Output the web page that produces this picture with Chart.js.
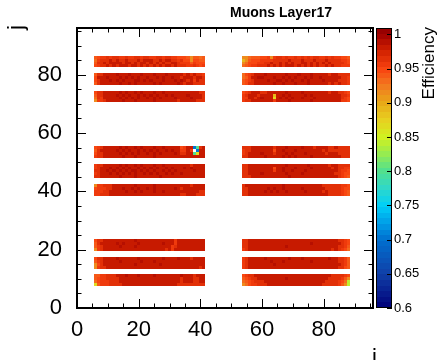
<!DOCTYPE html>
<html>
<head>
<meta charset="utf-8">
<script src="https://cdn.jsdelivr.net/npm/chart.js@4.4.0/dist/chart.umd.min.js"></script>
<style>
html, body { margin: 0; padding: 0; background: #fff; }
canvas { display: block; }
</style>
</head>
<body>
<canvas id="chart_eff" width="439" height="360"></canvas>
<script>
/* Muons Layer17 efficiency map */

// j value of every strip row, top to bottom
var jRows = [86, 85, 84, 83, 80, 79, 78, 77, 74, 73, 72, 71,
             55, 54, 53, 52, 49, 48, 47, 46, 45, 42, 41, 40, 39,
             23, 22, 21, 20, 17, 16, 15, 14, 11, 10, 9, 8];

// first i bin of the left and right chamber
var iStartLeft = 6;
var iStartRight = 54;

// one char per i bin, see effCodes ('.' = empty bin)
var effLeft = [
  "456676 776676 677677 667767 766555 424434",
  "367778 787787 778788 877878 877675 525544",
  "477878 888788 787887 878787 788766 646555",
  "567787 878887 887878 787878 878777 667656",
  "477888 898889 888988 898889 888887 878776",
  "588898 889898 989889 889898 898878 887887",
  "578889 898988 899898 988898 889898 786877",
  "478888 889889 898888 898988 888987 887777",
  "577888 889898 898988 898898 888888 888877",
  "477888 898989 889898 989889 898888 988887",
  "376888 889898 989889 898988 889888 898887",
  "266788 888988 898888 898888 888788 888777",
  "567888 889898 898988 898898 888856 88bg78",
  "478888 898989 889898 989889 898866 86.b88",
  "577888 889898 989889 898988 889877 88g088",
  "677888 888988 898888 898888 888888 888888",
  "677888 889898 898988 898898 888888 878888",
  "678889 898989 889898 989889 898889 898888",
  "778898 989898 998989 898898 989888 889888",
  "678889 898989 898898 989889 898898 888888",
  "778888 889888 898888 888988 888888 888888",
  "266777 888888 898888 898888 888888 878888",
  "566677 888988 989889 898888 889878 888888",
  "666778 888898 898988 898898 888888 888877",
  "667778 888888 888888 888888 888877 888777",
  "577888 888888 898888 888888 886888 888888",
  "478888 898988 889888 888898 886888 888888",
  "467888 889888 898888 888888 867888 888888",
  "267888 888888 888888 888887 868888 888888",
  "577888 898888 889888 888898 888988 878888",
  "467888 889888 888988 898888 888888 888888",
  "257888 888888 898888 888988 888888 888888",
  "267788 888888 888888 888888 888888 888878",
  "446677 788898 889888 898888 888898 887888",
  "456677 778888 888888 888888 888878 887788",
  "356667 778888 888888 888888 888878 887788",
  "046667 777888 888888 888888 888777 777777"
];

var effRight = [
  "223444 556267 767667 676767 766767 66554",
  "124555 666677 777877 787778 777877 77665",
  "235556 677877 878787 788787 878787 77765",
  "345667 778787 878887 878787 877878 77666",
  "356788 898888 889888 988898 888878 87777",
  "346889 988898 898989 889898 898888 88776",
  "456788 889889 989898 898988 889888 87776",
  "457788 888898 898889 888988 888878 78776",
  "567888 778888 889888 898888 888878 87765",
  "678887 888818 898988 889898 888888 88776",
  "668878 988808 989898 898889 888888 88765",
  "677888 888868 888988 888898 888888 88665",
  "777888 888878 889888 898887 888877 87777",
  "677888 888858 898889 888888 887877 77777",
  "678888 988878 889898 889888 888788 87777",
  "778888 898888 898989 888898 888888 88777",
  "778888 888888 889888 888988 888878 87777",
  "778888 888858 898889 888898 888887 87766",
  "778888 888868 898898 889888 888888 87665",
  "778888 988888 889888 898888 888888 77655",
  "777888 888888 888988 888888 888888 87654",
  "788888 888888 898888 888888 887777 77665",
  "778888 889898 898888 898888 888777 77655",
  "778888 898989 889888 889888 887877 77654",
  "778888 888888 888888 888888 888877 77654",
  "778888 888888 888888 888888 888888 87765",
  "778888 888888 888888 888898 888888 88765",
  "778888 888888 889888 888888 888888 87764",
  "678888 888888 888888 888888 888887 87653",
  "678888 898888 888988 898888 888898 87764",
  "678888 888988 898888 888898 888888 87764",
  "678888 888898 888888 888888 888888 88764",
  "678888 888888 888888 888888 888888 87754",
  "567788 888888 888888 888888 888887 77765",
  "456778 888888 889888 888888 888877 77642",
  "345677 788888 888888 888888 888777 7653h",
  "235667 778888 888888 888888 887777 7642h"
];

// efficiency for each code char
var effCodes = {
  '9': 0.985, '8': 0.977, '7': 0.968, '6': 0.959, '5': 0.950,
  '4': 0.940, '3': 0.928, '2': 0.912, '1': 0.893, '0': 0.868,
  'h': 0.840, 'g': 0.800, 'c': 0.760, 'b': 0.700
};

var xTicks = [0, 20, 40, 60, 80];
var yTicks = [0, 20, 40, 60, 80];
var zTicks = [0.6, 0.65, 0.7, 0.75, 0.8, 0.85, 0.9, 0.95, 1];
var zMin = 0.6;
var zMax = 1.0094;

// rainbow palette, 50 contours like the ROOT colz
var paletteStops = [
  [0.600, [0, 0, 120]],
  [0.650, [16, 64, 168]],
  [0.700, [0, 112, 208]],
  [0.725, [0, 160, 232]],
  [0.750, [0, 208, 248]],
  [0.775, [48, 216, 200]],
  [0.800, [80, 224, 144]],
  [0.825, [150, 236, 80]],
  [0.850, [210, 240, 32]],
  [0.875, [232, 208, 32]],
  [0.900, [232, 168, 24]],
  [0.925, [242, 122, 32]],
  [0.950, [248, 66, 16]],
  [0.975, [210, 34, 0]],
  [1.000, [160, 0, 0]],
  [1.010, [145, 0, 0]]
];
var nContours = 50;

function effColor(v) {
  var bw = (zMax - zMin) / nContours;
  var k = Math.floor((v - zMin) / bw);
  if (k < 0) k = 0;
  if (k > nContours - 1) k = nContours - 1;
  var c = zMin + (k + 0.5) * bw;
  for (var s = 1; s < paletteStops.length; s++) {
    if (c <= paletteStops[s][0]) {
      var a = paletteStops[s - 1], b = paletteStops[s];
      var t = (c - a[0]) / (b[0] - a[0]);
      var rgb = [0, 1, 2].map(function(n){ return Math.round(a[1][n] + t * (b[1][n] - a[1][n])); });
      return 'rgb(' + rgb.join(',') + ')';
    }
  }
  return 'rgb(145,0,0)';
}

// build the cell list from the row strings
var cells = [];
function addRows(rows, iStart) {
  rows.forEach(function(row, r) {
    var codes = row.replace(/ /g, '');
    for (var k = 0; k < codes.length; k++) {
      var v = effCodes[codes[k]];
      if (v === undefined) continue;
      cells.push({ x: iStart + k, y: jRows[r], v: v });
    }
  });
}
addRows(effLeft, iStartLeft);
addRows(effRight, iStartRight);

var fontName = "'Liberation Sans', Arial, Helvetica, sans-serif";

var cellPlugin = {
  id: 'cells',
  beforeDatasetsDraw: function(chart) {
    var ctx = chart.ctx, xs = chart.scales.x, ys = chart.scales.y;
    ctx.save();
    chart.data.datasets[0].data.forEach(function(p) {
      var x0 = Math.round(xs.getPixelForValue(p.x - 0.5));
      var x1 = Math.round(xs.getPixelForValue(p.x + 0.5));
      var y0 = Math.round(ys.getPixelForValue(p.y + 0.5));
      var y1 = Math.round(ys.getPixelForValue(p.y - 0.5));
      ctx.fillStyle = effColor(p.v);
      ctx.fillRect(x0, y0, x1 - x0, y1 - y0);
    });
    ctx.restore();
  }
};

var framePlugin = {
  id: 'frame',
  afterDraw: function(chart) {
    var ctx = chart.ctx, a = chart.chartArea;
    var xs = chart.scales.x, ys = chart.scales.y, zs = chart.scales.zaxis;
    ctx.save();
    ctx.strokeStyle = '#000';
    ctx.fillStyle = '#000';

    // tick marks on all four sides, pointing inwards
    ctx.lineWidth = 1;
    ctx.beginPath();
    for (var v = 0; v <= 96; v += 5) {
      var len = v % 20 === 0 ? 9 : 4.5;
      var px = Math.round(xs.getPixelForValue(v)) + 0.5;
      ctx.moveTo(px, a.bottom); ctx.lineTo(px, a.bottom - len);
      ctx.moveTo(px, a.top); ctx.lineTo(px, a.top + len);
      var py = Math.round(ys.getPixelForValue(v)) + 0.5;
      ctx.moveTo(a.left, py); ctx.lineTo(a.left + len, py);
      ctx.moveTo(a.right, py); ctx.lineTo(a.right - len, py);
    }
    ctx.stroke();

    // frame
    ctx.lineWidth = 2;
    ctx.strokeRect(a.left, a.top, a.right - a.left, a.bottom - a.top);

    // colour bar
    var bx = a.right + 3, bw = 16;
    var step = (zMax - zMin) / nContours;
    for (var k = 0; k < nContours; k++) {
      var lo = zMin + k * step;
      var yTop = Math.round(zs.getPixelForValue(lo + step));
      var yBot = Math.round(zs.getPixelForValue(lo));
      ctx.fillStyle = effColor(lo + step / 2);
      ctx.fillRect(bx, yTop, bw, yBot - yTop);
    }
    ctx.lineWidth = 1;
    ctx.strokeRect(bx + 0.5, a.top + 0.5, bw - 1, a.bottom - a.top - 1);
    ctx.beginPath();
    zTicks.forEach(function(t) {
      var py = Math.round(zs.getPixelForValue(t)) + 0.5;
      ctx.moveTo(bx + bw, py); ctx.lineTo(bx + bw - 5, py);
    });
    ctx.stroke();

    // texts
    ctx.fillStyle = '#000';
    ctx.font = 'bold 14px ' + fontName;
    ctx.textAlign = 'center';
    ctx.textBaseline = 'alphabetic';
    ctx.fillText('Muons Layer17', 281, 17);

    ctx.font = '22px ' + fontName;
    ctx.textAlign = 'right';
    ctx.fillText('i', 377, 364);

    ctx.save();
    ctx.translate(23, 25);
    ctx.rotate(-Math.PI / 2);
    ctx.textAlign = 'right';
    ctx.fillText('j', 0, 0);
    ctx.restore();

    ctx.save();
    ctx.translate(434, 27);
    ctx.rotate(-Math.PI / 2);
    ctx.font = '17px ' + fontName;
    ctx.textAlign = 'right';
    ctx.fillText('Efficiency', 0, 0);
    ctx.restore();

    ctx.restore();
  }
};

var ctx = document.getElementById('chart_eff').getContext('2d');
var effChart = new Chart(ctx, {
  type: 'scatter',
  data: {
    datasets: [{
      label: 'Efficiency',
      data: cells,
      pointRadius: 0,
      pointHoverRadius: 0
    }]
  },
  options: {
    responsive: false,
    animation: false,
    devicePixelRatio: 1,
    events: [],
    layout: { padding: { top: 28, left: 0, right: 0, bottom: 0 } },
    plugins: {
      legend: { display: false },
      tooltip: { enabled: false },
      title: { display: false }
    },
    scales: {
      x: {
        type: 'linear', min: 0, max: 96,
        afterFit: function(s) { s.height = 52; },
        afterBuildTicks: function(s) { s.ticks = xTicks.map(function(v){ return { value: v }; }); },
        grid: { display: false },
        border: { display: false },
        ticks: { font: { family: fontName, size: 22 }, color: '#000', padding: 1, maxRotation: 0 }
      },
      y: {
        type: 'linear', min: 0, max: 96,
        afterFit: function(s) { s.width = 77; },
        afterBuildTicks: function(s) { s.ticks = yTicks.map(function(v){ return { value: v }; }); },
        grid: { display: false },
        border: { display: false },
        ticks: { font: { family: fontName, size: 22 }, color: '#000', padding: 7 }
      },
      zaxis: {
        type: 'linear', position: 'right', axis: 'y', min: zMin, max: zMax,
        afterFit: function(s) { s.width = 66; },
        afterBuildTicks: function(s) { s.ticks = zTicks.map(function(v){ return { value: v }; }); },
        grid: { display: false },
        border: { display: false },
        ticks: {
          font: { family: fontName, size: 13 }, color: '#000', padding: 13,
          callback: function(v) { return String(Math.round(v * 100) / 100); }
        }
      }
    }
  },
  plugins: [cellPlugin, framePlugin]
});
</script>
</body>
</html>
